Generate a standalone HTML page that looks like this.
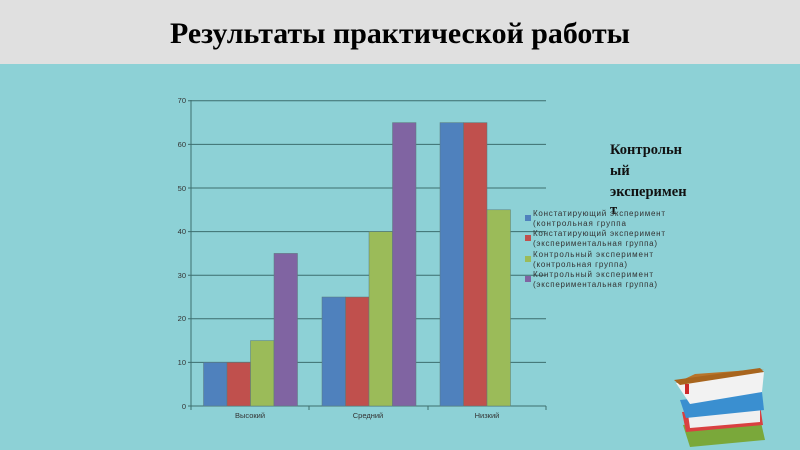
<!DOCTYPE html>
<html><head><meta charset="utf-8"><style>
body{margin:0;width:800px;height:450px;overflow:hidden;background:#8dd1d6}
svg{display:block}
</style></head><body>
<svg width="800" height="450" xmlns="http://www.w3.org/2000/svg" font-family="Liberation Sans, DejaVu Sans, sans-serif">
<rect x="0" y="0" width="800" height="450" fill="#8dd1d6"/>
<rect x="0" y="0" width="800" height="64" fill="#e0e0e0"/>
<text x="170" y="43" font-family="Liberation Serif, serif" font-weight="bold" font-size="30" textLength="460" lengthAdjust="spacingAndGlyphs" fill="#000">Результаты практической работы</text>
<g stroke="#3d6e6e" stroke-width="1">
<line x1="188" y1="100.8" x2="546" y2="100.8"/>
<line x1="188" y1="144.4" x2="546" y2="144.4"/>
<line x1="188" y1="188" x2="546" y2="188"/>
<line x1="188" y1="231.6" x2="546" y2="231.6"/>
<line x1="188" y1="275.2" x2="546" y2="275.2"/>
<line x1="188" y1="318.8" x2="546" y2="318.8"/>
<line x1="188" y1="362.4" x2="546" y2="362.4"/>
<line x1="188" y1="406" x2="546" y2="406"/>
<line x1="191" y1="100" x2="191" y2="406"/>
<line x1="191" y1="406" x2="191" y2="410"/><line x1="309" y1="406" x2="309" y2="410"/><line x1="428" y1="406" x2="428" y2="410"/><line x1="546" y1="406" x2="546" y2="410"/>
</g>
<g font-size="7.5" fill="#333" text-anchor="end">
<text x="186" y="103">70</text><text x="186" y="147">60</text><text x="186" y="191">50</text><text x="186" y="234">40</text><text x="186" y="278">30</text><text x="186" y="321">20</text><text x="186" y="365">10</text><text x="186" y="409">0</text>
</g>
<g font-size="7.5" fill="#333" text-anchor="middle">
<text x="250" y="418">Высокий</text><text x="368" y="418">Средний</text><text x="487" y="418">Низкий</text>
</g>
<g stroke="#5a7a7a" stroke-width="0.5">
<rect x="203.5" y="362.4" width="23.5" height="43.6" fill="#4f81bd"/>
<rect x="227" y="362.4" width="23.5" height="43.6" fill="#c0504d"/>
<rect x="250.5" y="340.6" width="23.5" height="65.4" fill="#9bbb59"/>
<rect x="274" y="253.4" width="23.5" height="152.6" fill="#8064a2"/>
<rect x="322" y="297" width="23.5" height="109" fill="#4f81bd"/>
<rect x="345.5" y="297" width="23.5" height="109" fill="#c0504d"/>
<rect x="369" y="231.6" width="23.5" height="174.4" fill="#9bbb59"/>
<rect x="392.5" y="122.6" width="23.5" height="283.4" fill="#8064a2"/>
<rect x="440" y="122.6" width="23.5" height="283.4" fill="#4f81bd"/>
<rect x="463.5" y="122.6" width="23.5" height="283.4" fill="#c0504d"/>
<rect x="487" y="209.8" width="23.5" height="196.2" fill="#9bbb59"/>
</g>
<g font-family="Liberation Serif, serif" font-weight="bold" font-size="14.5" fill="#111">
<text x="610" y="154">Контрольн</text><text x="610" y="175">ый</text><text x="610" y="196">эксперимен</text><text x="610" y="214">т</text>
</g>
<rect x="525" y="215" width="6" height="6" fill="#4f81bd"/>
<rect x="525" y="235" width="6" height="6" fill="#c0504d"/>
<rect x="525" y="256" width="6" height="6" fill="#9bbb59"/>
<rect x="525" y="276" width="6" height="6" fill="#8064a2"/>
<g font-size="8" fill="#333" lengthAdjust="spacing">
<text x="533" y="216" textLength="132">Констатирующий эксперимент</text><text x="533" y="226" textLength="93">(контрольная группа</text>
<text x="533" y="236" textLength="132">Констатирующий эксперимент</text><text x="533" y="246" textLength="124">(экспериментальная группа)</text>
<text x="533" y="257" textLength="120">Контрольный эксперимент</text><text x="533" y="267" textLength="94">(контрольная группа)</text>
<text x="533" y="277" textLength="120">Контрольный эксперимент</text><text x="533" y="287" textLength="124">(экспериментальная группа)</text>
</g>
<g>
<polygon points="683,425 760,418 765,440 690,447" fill="#7aa83a"/>
<polygon points="682,412 760,405 763,425 686,432" fill="#d94040"/>
<polygon points="688,414 760,408 760,422 690,428" fill="#f0f0f0"/>
<polygon points="680,400 762,392 764,410 686,418" fill="#3a8fd0"/>
<polygon points="676,383 764,372 762,392 690,404" fill="#f2f2f2"/>
<polygon points="676,383 695,374 764,369 752,372" fill="#b8742a"/>
<polygon points="674,380 760,368 764,372 680,385" fill="#a8651e"/>
<rect x="685" y="384" width="4" height="10" fill="#cc2a2a"/>
</g>
</svg>
</body></html>
